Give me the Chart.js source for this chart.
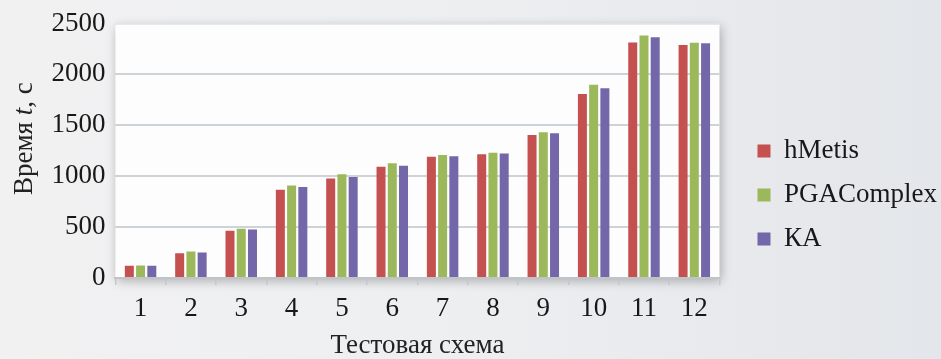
<!DOCTYPE html>
<html lang="ru">
  <head>
    <meta charset="UTF-8" />
    <title>Время решения тестовых схем</title>
    <script src="https://cdn.jsdelivr.net/npm/chart.js"></script>
    <style>
      html, body {
        margin: 0;
        padding: 0;
      }
      body {
        width: 941px;
        height: 359px;
        overflow: hidden;
        background: linear-gradient(90deg, #f1f1f2 0%, #eeeff1 45%, #e7e9ec 80%, #e3e6ea 100%);
      }
      #chartBox {
        position: relative;
        width: 941px;
        height: 359px;
      }
    </style>
  </head>
  <body>
    <div id="chartBox">
      <canvas id="timeChart" width="941" height="359"></canvas>
    </div>

    <script>
      // Test schemes (x axis)
      const schemes = ["1", "2", "3", "4", "5", "6", "7", "8", "9", "10", "11", "12"];

      // Run time, seconds
      const hMetis = [120, 242, 464, 867, 977, 1093, 1192, 1215, 1405, 1808, 2314, 2289];
      const pgaComplex = [122, 261, 483, 909, 1019, 1128, 1209, 1231, 1431, 1898, 2382, 2311];
      const ka = [121, 251, 477, 893, 993, 1102, 1196, 1222, 1421, 1863, 2366, 2305];

      const yTicks = [0, 500, 1000, 1500, 2000, 2500];

      const serif = "'Liberation Serif', 'Times New Roman', serif";

      // white plot area with a soft shadow
      const plotBackground = {
        id: "plotBackground",
        beforeDraw(chart) {
          const { ctx, chartArea } = chart;
          ctx.save();
          ctx.shadowColor = "rgba(0, 0, 0, 0.28)";
          ctx.shadowBlur = 10;
          ctx.shadowOffsetX = 2;
          ctx.shadowOffsetY = 3;
          ctx.fillStyle = "#fdfdfe";
          ctx.fillRect(chartArea.left, chartArea.top, chartArea.right - chartArea.left, chartArea.bottom - chartArea.top);
          ctx.restore();
        },
      };

      // y title with italic "t"
      const yTitle = {
        id: "yTitle",
        afterDraw(chart) {
          const { ctx, chartArea } = chart;
          const y = chart.scales.y;
          const parts = [
            ["Время ", "normal"],
            ["t", "italic"],
            [", с", "normal"],
          ];
          ctx.save();
          ctx.fillStyle = "#222";
          ctx.textBaseline = "middle";
          let total = 0;
          parts.forEach(([txt, st]) => {
            ctx.font = st + " 27px " + serif;
            total += ctx.measureText(txt).width;
          });
          ctx.translate(y.left + 25, (chartArea.top + chartArea.bottom) / 2 - 12);
          ctx.rotate(-Math.PI / 2);
          let x = -total / 2;
          parts.forEach(([txt, st]) => {
            ctx.font = st + " 27px " + serif;
            ctx.fillText(txt, x, 0);
            x += ctx.measureText(txt).width;
          });
          ctx.restore();
        },
      };

      function makeSet(label, data, color) {
        return {
          label: label,
          data: data,
          backgroundColor: color,
          borderWidth: 0,
          categoryPercentage: 0.67,
          barPercentage: 0.8,
        };
      }

      const ctx = document.getElementById("timeChart").getContext("2d");
      new Chart(ctx, {
        type: "bar",
        data: {
          labels: schemes,
          datasets: [
            makeSet("hMetis", hMetis, "#c4504f"),
            makeSet("PGAComplex", pgaComplex, "#9bb85a"),
            makeSet("КА", ka, "#7467a9"),
          ],
        },
        options: {
          responsive: false,
          animation: false,
          layout: {
            padding: { top: 1, right: -6, left: 0, bottom: 0 },
          },
          plugins: {
            legend: {
              position: "right",
              align: "center",
              // empty title only pushes the entries a little lower
              title: {
                display: true,
                text: "",
                font: { size: 1 },
                padding: { top: 8, bottom: 0 },
              },
              labels: {
                boxWidth: 13,
                boxHeight: 13,
                padding: 38,
                color: "#181818",
                font: { family: serif, size: 27, lineHeight: "6px" },
                // one-line arrays: row height follows lineHeight, so the
                // wide left padding does not spread the rows apart
                generateLabels(chart) {
                  const items = Chart.defaults.plugins.legend.labels.generateLabels(chart);
                  items.forEach((it) => {
                    it.text = [it.text];
                  });
                  return items;
                },
              },
            },
            tooltip: { enabled: false },
          },
          scales: {
            x: {
              grid: {
                display: true,
                drawOnChartArea: false,
                drawTicks: true,
                tickLength: 7,
                color: "#c3c8cc",
                lineWidth: 1.5,
              },
              border: { display: true, color: "#bfc4c8", width: 2 },
              ticks: {
                color: "#181818",
                font: { family: serif, size: 27, lineHeight: 1 },
                padding: 10,
              },
              title: {
                display: true,
                text: "Тестовая схема",
                color: "#222",
                font: { family: serif, size: 27, lineHeight: 1 },
                padding: { top: 0, bottom: 0 },
              },
            },
            y: {
              min: 0,
              max: 2500,
              afterBuildTicks(scale) {
                scale.ticks = yTicks.map((v) => ({ value: v }));
              },
              grid: {
                drawTicks: false,
                color: (c) => (c.tick && c.tick.value === 2500 ? "rgba(215,220,224,0.6)" : "#cdd3d7"),
                lineWidth: 2,
              },
              border: { display: false },
              ticks: {
                color: "#181818",
                font: { family: serif, size: 27, lineHeight: 1 },
                padding: 10,
                callback: (v) => String(v),
              },
              title: {
                display: true,
                text: "Время t, с",
                color: "rgba(0,0,0,0)",
                font: { family: serif, size: 27 },
                padding: { top: 8, bottom: 1 },
              },
            },
          },
        },
        plugins: [plotBackground, yTitle],
      });
    </script>
  </body>
</html>
